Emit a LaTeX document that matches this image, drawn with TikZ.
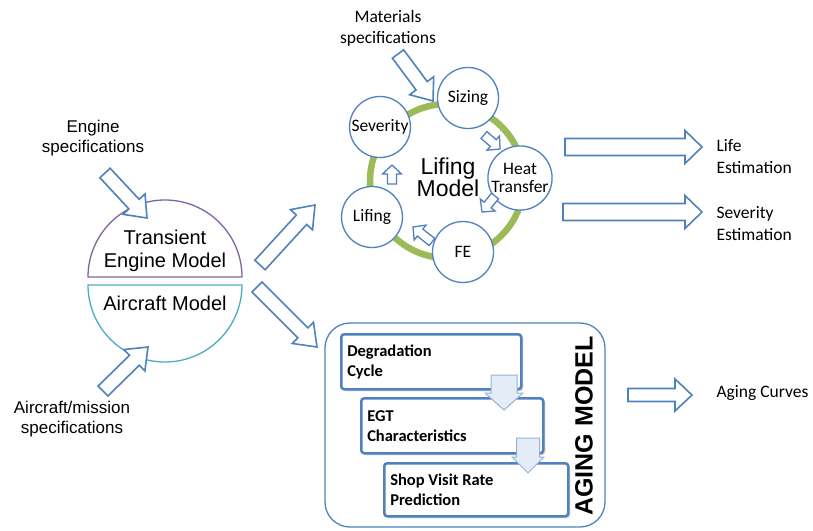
\documentclass[tikz,border=0pt]{standalone}
\usepackage{fontspec}
\setmainfont{Liberation Sans}
\newfontfamily\calib{Carlito}
\usetikzlibrary{calc,shadows}
\definecolor{oblue}{HTML}{4F81BD}
\definecolor{opurple}{HTML}{8064A2}
\definecolor{ocyan}{HTML}{4BACC6}
\definecolor{ogreen}{HTML}{9BBB59}
\definecolor{paleblue}{HTML}{E4ECF7}
\definecolor{midblue}{HTML}{95B3D7}
\newcommand{\blkarrow}[7][blkarr]{%
  \coordinate (#2-t) at #3; \coordinate (#2-p) at #4;
  \coordinate (#2-h) at ($(#2-p)!#7!(#2-t)$);
  \draw[#1] ($(#2-t)!#5!90:(#2-p)$) -- ($(#2-h)!#5!90:(#2-p)$) -- ($(#2-h)!#6!90:(#2-p)$)
    -- (#2-p) -- ($(#2-h)!#6!-90:(#2-p)$) -- ($(#2-h)!#5!-90:(#2-p)$) -- ($(#2-t)!#5!-90:(#2-p)$) -- cycle;}
\tikzset{
  blkarr/.style={draw=oblue, line width=1.6pt, fill=white, line join=miter},
  smallarr/.style={draw=oblue, line width=1.3pt, fill=white, line join=miter},
  downarr/.style={draw=midblue, line width=1pt, fill=paleblue, line join=miter},
  smallc/.style={circle, draw=oblue, line width=1.3pt, fill=white, minimum size=61pt, inner sep=0pt,
    align=center, font=\calib\fontsize{17.5}{18}\selectfont},
  agebox/.style={draw=oblue, line width=2.5pt, fill=white, rounded corners=3pt, anchor=north west,
    align=flush left, inner xsep=6pt, inner ysep=0pt, font=\calib\bfseries\fontsize{16.5}{20}\selectfont,
    drop shadow={opacity=0.3, shadow xshift=2pt, shadow yshift=-2pt}},
  arialtxt/.style={align=center, font=\fontsize{17}{20}\selectfont},
  calibtxt/.style={align=flush left, anchor=west, font=\calib\fontsize{17.5}{22}\selectfont},
  lmtxt/.style={align=center, font=\fontsize{23}{22}\selectfont},
}
\begin{document}
\begin{tikzpicture}[x=1pt, y=-1pt]
\useasboundingbox (0,0) rectangle (813,530);
% left model disc
\draw[opurple, line width=1.3pt, fill=white] (88,277) arc[start angle=180, end angle=0, radius=77pt] -- cycle;
\draw[ocyan, line width=1.3pt, fill=white] (88,285) arc[start angle=180, end angle=360, radius=77pt] -- cycle;
\node[font=\fontsize{20}{23}\selectfont, align=center] (tem) at (165,251) {Transient\\Engine Model};
\node[font=\fontsize{20}{23}\selectfont] (acm) at (165,303) {Aircraft Model};
\node[arialtxt] (espec) at (93,138) {Engine\\specifications};
\node[arialtxt] (aspec) at (72,419) {Aircraft/mission\\specifications};
\blkarrow{ea}{(105,173)}{(147,218)}{7pt}{15pt}{19pt}
\blkarrow{aa}{(103,391)}{(148,347)}{7pt}{15pt}{19pt}
% middle arrows
\blkarrow{ua}{(260,265)}{(315,205)}{7pt}{15pt}{20pt}
\blkarrow{la}{(257,287)}{(317,347)}{7pt}{15pt}{20pt}
% lifing model
\draw[ogreen, line width=6.5pt] (447,181) circle[radius=77pt];
\node[lmtxt] (lm) at (448,177) {Lifing\\Model};
\node[smallc] (siz) at (468,98) {Sizing};
\node[smallc] (sev) at (380,127) {Severity};
\node[smallc] (ht) at (520,178) {Heat\\Transfer};
\node[smallc] (fe) at (463,252) {FE};
\node[smallc] (lif) at (372,217) {Lifing};
\blkarrow[smallarr]{s1}{(484,135)}{(500,149)}{4.5pt}{9.5pt}{9pt}
\blkarrow[smallarr]{s2}{(495,196)}{(482,212)}{4.5pt}{9.5pt}{9pt}
\blkarrow[smallarr]{s3}{(432,242)}{(413,227)}{4.5pt}{9.5pt}{9pt}
\blkarrow[smallarr]{s4}{(392,184)}{(392,165)}{4.5pt}{9.5pt}{9pt}
\node[align=center, font=\calib\fontsize{17.5}{21}\selectfont] (mspec) at (388,28) {Materials\\specifications};
\blkarrow{ma}{(398,54)}{(433,101)}{7pt}{15pt}{19pt}
% outputs
\blkarrow{oa1}{(565,147)}{(702,147)}{8.5pt}{16.5pt}{17pt}
\blkarrow{oa2}{(563,212)}{(702,212)}{8.5pt}{16.5pt}{17pt}
\blkarrow{oa3}{(628,395)}{(692,395)}{6.5pt}{16pt}{17pt}
\node[calibtxt] (le) at (713,157) {Life\\Estimation};
\node[calibtxt] (se) at (713,224) {Severity\\Estimation};
\node[calibtxt] (ac) at (713,393) {Aging Curves};
% aging model
\draw[oblue, line width=1.3pt, rounded corners=25pt] (325,323) rectangle (605,527);
\node[agebox, minimum width=180pt, minimum height=55pt, text width=168pt] (deg) at (340,333) {Degradation\\Cycle};
\node[agebox, minimum width=182pt, minimum height=55pt, text width=170pt] (egt) at (360,397) {EGT\\Characteristics};
\blkarrow[downarr]{d1}{(504,375)}{(504,410)}{13pt}{19pt}{17pt}
\node[agebox, minimum width=184pt, minimum height=53pt, text width=172pt] (svr) at (383,462) {Shop Visit Rate\\Prediction};
\blkarrow[downarr]{d2}{(528,438)}{(528,473)}{11.5pt}{16pt}{16pt}
\node[rotate=90, font=\bfseries\fontsize{25}{25}\selectfont] (agt) at (584,426) {AGING MODEL};
\end{tikzpicture}
\end{document}
